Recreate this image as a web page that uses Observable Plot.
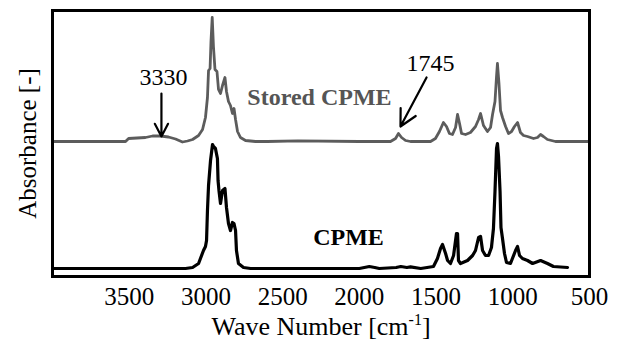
<!DOCTYPE html>
<html><head><meta charset="utf-8">
<script src="https://cdn.jsdelivr.net/npm/d3@7"></script>
<script src="https://cdn.jsdelivr.net/npm/@observablehq/plot@0.6"></script>
<style>body{margin:0;background:#fff}</style>
</head><body><div id="chart"></div>
<script>
// Stored CPME spectrum (wavenumber cm-1, absorbance above its own baseline)
const storedWn = [4000,3524,3504,3394,3348,3296,3244,3198,3153,3120,3087,3048,3022,3003,2990,2983,2973,2967,2959,2951,2941,2928,2918,2905,2892,2876,2866,2853,2840,2827,2817,2807,2794,2775,2742,2677,2600,2400,2000,1797,1764,1745,1725,1699,1667,1536,1504,1478,1452,1432,1413,1393,1373,1360,1347,1334,1308,1276,1243,1223,1210,1191,1165,1145,1132,1116,1106,1100,1090,1080,1067,1047,1028,1008,989,969,950,930,904,865,839,819,800,774,722,500];
const storedAbs = [0,0,0.015,0.02,0.0275,0.0275,0.0225,0.0125,-0.0025,0.0025,0.01,0.03,0.06,0.12,0.22,0.355,0.365,0.50,0.62,0.475,0.36,0.35,0.26,0.24,0.28,0.32,0.25,0.20,0.18,0.14,0.165,0.11,0.05,0.02,0.005,0,0,0.003,0,0,0.015,0.04,0.02,0.005,0,0,0.015,0.05,0.095,0.075,0.04,0.035,0.07,0.135,0.09,0.04,0.035,0.045,0.075,0.11,0.14,0.08,0.05,0.07,0.135,0.2,0.325,0.39,0.29,0.155,0.12,0.075,0.04,0.05,0.075,0.095,0.045,0.03,0.025,0.015,0.02,0.035,0.025,0.01,0,0];
// CPME spectrum
const cpmeWn = [4000,3133,3087,3048,3016,3003,2996,2990,2983,2970,2957,2951,2938,2925,2921,2915,2905,2892,2876,2866,2853,2840,2827,2817,2807,2801,2788,2755,2709,2000,1935,1900,1870,1760,1730,1690,1667,1600,1517,1491,1471,1458,1438,1425,1406,1386,1367,1360,1354,1341,1295,1262,1243,1223,1210,1197,1178,1158,1139,1126,1116,1106,1100,1093,1083,1077,1067,1054,1041,1015,982,969,956,937,904,871,819,774,735,643];
const cpmeAbs = [0,0,0.005,0.025,0.09,0.11,0.14,0.29,0.415,0.54,0.62,0.61,0.60,0.55,0.44,0.39,0.325,0.39,0.40,0.305,0.225,0.19,0.23,0.225,0.19,0.09,0.025,0.005,0,0,0.01,0.005,0,0.005,0.01,0.005,0.008,0,0.01,0.05,0.10,0.12,0.075,0.04,0.025,0.065,0.175,0.175,0.04,0.025,0.04,0.065,0.09,0.155,0.16,0.09,0.065,0.065,0.105,0.20,0.385,0.60,0.625,0.56,0.385,0.205,0.15,0.075,0.03,0.025,0.09,0.11,0.065,0.05,0.04,0.025,0.04,0.025,0.01,0.005];
const storedOffset = 0.675;
const cpmeOffset = 0.04;
const xTicks = [3500,3000,2500,2000,1500,1000,500];
const peakLabels = ["3330","1745"];
const seriesLabels = ["Stored CPME","CPME"];

const stored = storedWn.map((w,i)=>({wn:w, a:storedAbs[i]+storedOffset}));
const cpme = cpmeWn.map((w,i)=>({wn:w, a:cpmeAbs[i]+cpmeOffset}));

const peakText = [
  {t:peakLabels[0], x:3276, y:0.995},
  {t:peakLabels[1], x:1536, y:1.065}
];
const arrows = [
  {x1:3290, y1:0.915, x2:3290, y2:0.70},
  {x1:1562, y1:0.995, x2:1732, y2:0.75}
];
const font = "'Liberation Serif','Times New Roman',serif";

const plot = Plot.plot({
  width:618, height:341,
  marginLeft:52, marginRight:29, marginTop:10, marginBottom:65,
  style:{fontFamily:font, fontSize:"25px", background:"#fff", color:"#000", overflow:"visible"},
  x:{domain:[4000,500], ticks:xTicks, tickSize:0, tickPadding:11, tickFormat:d=>String(d), label:null},
  y:{domain:[0,1.33], axis:null},
  marks:[
    Plot.line(stored,{x:"wn", y:"a", stroke:"#5c5c5c", strokeWidth:2.8}),
    Plot.line(cpme,{x:"wn", y:"a", stroke:"#000", strokeWidth:3.2}),
    Plot.frame({stroke:"#000", strokeWidth:3}),
    Plot.text(peakText,{x:"x", y:"y", text:"t", fontSize:24, fill:"#000"}),
    Plot.arrow(arrows,{x1:"x1", y1:"y1", x2:"x2", y2:"y2", stroke:"#000", strokeWidth:2.2, headLength:15, headAngle:55}),
    Plot.text([seriesLabels[0]],{x:2260, y:0.895, text:d=>d, fontSize:24, fontWeight:"bold", fill:"#555"}),
    Plot.text([seriesLabels[1]],{x:2071, y:0.195, text:d=>d, fontSize:24, fontWeight:"bold", fill:"#000"}),
    Plot.text(["Absorbance [-]"],{frameAnchor:"left", textAnchor:"middle", lineAnchor:"middle", rotate:-90, dx:-25, text:d=>d, fontSize:25, fill:"#000"}),
    Plot.text(["Wave Number [cm-1]"],{frameAnchor:"bottom", textAnchor:"middle", lineAnchor:"middle", dy:50, text:d=>d, fontSize:26, fill:"#000"})
  ]
});
document.getElementById("chart").appendChild(plot);
// superscript for cm-1
d3.select(plot).selectAll("text").each(function(){
  if (this.textContent === "Wave Number [cm-1]") {
    const t = d3.select(this);
    t.text(null);
    t.append("tspan").text("Wave Number [cm");
    t.append("tspan").attr("font-size",16).attr("dy",-10).text("-1");
    t.append("tspan").attr("dy",10).text("]");
  }
});
</script></body></html>
